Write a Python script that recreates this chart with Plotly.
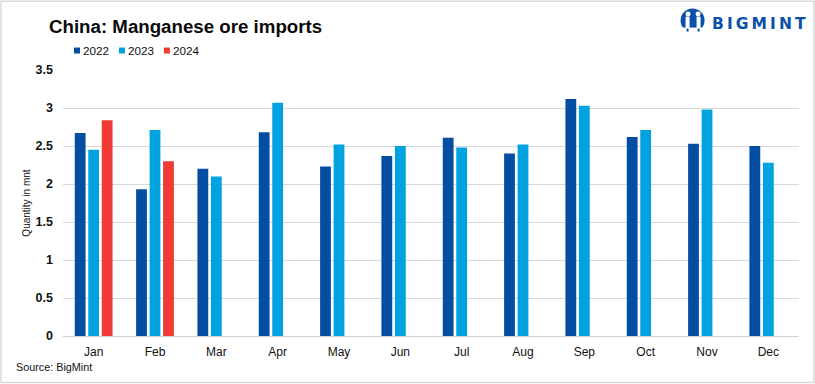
import plotly.graph_objects as go

months = ["Jan", "Feb", "Mar", "Apr", "May", "Jun", "Jul", "Aug", "Sep", "Oct", "Nov", "Dec"]
y2022 = [2.67, 1.93, 2.20, 2.68, 2.23, 2.37, 2.61, 2.40, 3.12, 2.62, 2.53, 2.50]
y2023 = [2.45, 2.71, 2.10, 3.07, 2.52, 2.50, 2.48, 2.52, 3.03, 2.71, 2.98, 2.28]
y2024 = [2.84, 2.30, None, None, None, None, None, None, None, None, None, None]
ticks = [0, 0.5, 1, 1.5, 2, 2.5, 3, 3.5]
tick_labels = ["0", "0.5", "1", "1.5", "2", "2.5", "3", "3.5"]

FONT = "Liberation Sans"
W, H = 815, 384
L, R, T, B = 63, 799.5, 69.5, 336
BLUE, CYAN, RED, LOGO = "#034ea2", "#00a3e0", "#ef3a36", "#0b50a8"
series = [("2022", y2022, BLUE), ("2023", y2023, CYAN), ("2024", y2024, RED)]

def px(x): return (x - L) / (R - L)
def py(y): return (B - y) / (B - T)

fig = go.Figure()
for name, vals, col in series:
    fig.add_trace(go.Bar(name=name, x=months, y=vals, marker=dict(color=col, line=dict(width=0))))

def rect(x0, x1, y0, y1, col):
    return dict(type="rect", xref="paper", yref="paper", x0=px(x0), x1=px(x1), y0=py(y1), y1=py(y0),
                line=dict(width=0), fillcolor=col)

def circ(x0, x1, y0, y1, col):
    return dict(type="circle", xref="paper", yref="paper", x0=px(x0), x1=px(x1), y0=py(y1), y1=py(y0),
                line=dict(width=0), fillcolor=col)

def text(s, x, y, size, color="#111111", anchor="left", family=None):
    f = dict(size=size, color=color)
    if family:
        f["family"] = family
    return dict(text=s, x=px(x), y=py(y), xref="paper", yref="paper", xanchor=anchor, yanchor="middle",
                showarrow=False, font=f)

annotations = [
    text("<b>China: Manganese ore imports</b>", 47, 25.5, 18.7, "#0a0a0a"),
    text("Source: BigMint", 14, 367, 10.8),
    text("<b>B\u2009I\u2009G\u2009M\u2009I\u2009N\u2009T</b>", 710, 23, 15.5, LOGO, family="DejaVu Sans"),
]
shapes = [
    dict(type="rect", xref="paper", yref="paper", x0=px(1), x1=px(W - 0.5), y0=py(H - 1.5), y1=py(0.5),
         line=dict(color="#d9d9d9", width=1.5), fillcolor="rgba(0,0,0,0)", layer="below"),
    circ(681, 705, 8, 32, LOGO),
    circ(686, 691, 11, 16, "white"),
    circ(696, 701, 11, 16, "white"),
    rect(686, 690, 16, 28, "white"),
    rect(697, 701, 16, 28, "white"),
    rect(681, 705, 27, 33, "white"),
    rect(687, 689, 28, 31, LOGO),
    rect(698, 700, 28, 31, LOGO),
]
for i, (name, _, col) in enumerate(series):
    x0 = 74 + 45 * i
    shapes.append(rect(x0, x0 + 6, 47, 53, col))
    annotations.append(text(name, x0 + 7, 50, 11.7))

fig.update_layout(
    width=W, height=H, barmode="group", bargap=0.34, bargroupgap=0.2,
    paper_bgcolor="white", plot_bgcolor="white",
    margin=dict(l=L, r=W - R, t=T, b=H - B),
    font=dict(family=FONT, color="#111111", size=12),
    showlegend=False,
    xaxis=dict(showgrid=False, showline=True, linecolor="#d0d0d0", linewidth=1, ticks="",
               tickfont=dict(size=12), ticklabelstandoff=5),
    yaxis=dict(range=[0, 3.5], tickvals=ticks, ticktext=tick_labels, showgrid=True,
               gridcolor="#d9d9d9", gridwidth=1.3, zeroline=False, showline=False,
               tickfont=dict(size=12.5, weight="bold"), ticks="", ticklabelstandoff=9,
               title=dict(text="Quantity in mnt", font=dict(size=10), standoff=3)),
    annotations=annotations,
    shapes=shapes,
)
fig.write_html("out.html", config={"displayModeBar": False}, post_script="document.body.style.margin='0';")
